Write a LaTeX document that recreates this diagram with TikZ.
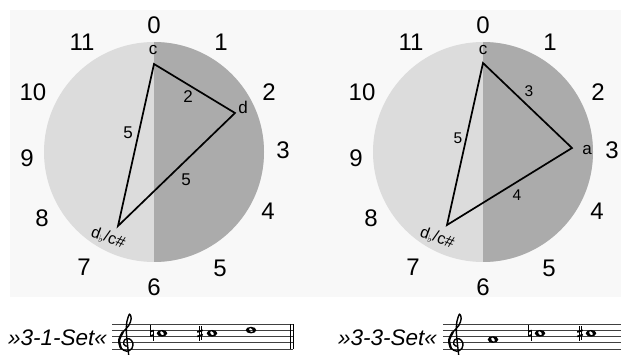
\documentclass[tikz,border=0pt]{standalone}
\usepackage{fontspec}
\setmainfont{Liberation Sans}
\newfontfamily\dejavu{DejaVu Sans}
\definecolor{lightdisc}{HTML}{DCDCDC}
\definecolor{darkdisc}{HTML}{ABABAB}
\definecolor{bgpanel}{HTML}{F8F8F8}
\newcommand\mysharpsign[2]{%
  \begin{scope}[shift={(#1,#2)}]
    \draw[line width=0.6pt] (-1.2,-7) -- (-1.2,7.5) (1.2,-7.5) -- (1.2,7);
    \draw[line width=1.6pt] (-2.8,-1.2) -- (2.8,-3.0) (-2.8,3.2) -- (2.8,1.4);
  \end{scope}}
\newcommand\mynaturalsign[2]{%
  \begin{scope}[shift={(#1,#2)}]
    \draw[line width=0.6pt] (-1.6,-8) -- (-1.6,3) (1.6,-3) -- (1.6,8);
    \draw[line width=1.6pt] (-1.6,-1.6) -- (1.6,-2.8) (-1.6,2.8) -- (1.6,1.6);
  \end{scope}}
\newcommand\mywholenote[2]{%
  \begin{scope}[shift={(#1,#2)}]
    \fill[even odd rule] (0,0) ellipse [x radius=5.3, y radius=3.3]
      [rotate=-50] (0,0) ellipse [x radius=2.3, y radius=1.5];
  \end{scope}}
\newcommand\mytrebleclef[2]{%
  \begin{scope}[shift={(#1,#2)}, x=6.5pt, y=-6.5pt]
    \draw[line width=1.4pt, line cap=round, line join=round]
      plot[smooth, tension=0.55] coordinates {
        (-0.55,2.95) (-0.05,3.4) (0.45,2.9) (0.4,1.8) (0.2,0) (0.05,-1.8)
        (0.15,-3.3) (0.55,-4.4) (0.8,-3.7) (0.4,-2.6) (-0.5,-1.6) (-1.05,-0.4)
        (-0.8,0.8) (0.1,1.3) (0.9,0.9) (1.05,0.0) (0.5,-0.6) (-0.2,-0.45)
        (-0.35,0.2) (0.05,0.55)};
    \draw[line width=2.3pt, line cap=round]
      plot[smooth, tension=0.55] coordinates {(-0.5,-1.6) (-1.05,-0.4) (-0.8,0.8)};
    \fill (-0.45,3.0) circle [radius=0.45];
  \end{scope}}
\begin{document}
\begin{tikzpicture}[x=1pt,y=-1pt,
  big/.style={font=\fontsize{24}{24}\selectfont, inner sep=0pt},
  small/.style={font=\fontsize{17}{17}\selectfont, inner sep=0pt},
  smaller/.style={font=\fontsize{15.5}{15.5}\selectfont, inner sep=0pt},
  tri/.style={line width=1.7pt, line join=miter},
  staffline/.style={line width=0.6pt, draw=black!75},
  settext/.style={font=\itshape\fontsize{22.5}{22.5}\selectfont, inner sep=0pt, anchor=west},
  enharm/.style={font=\fontsize{16}{16}\selectfont, inner sep=0pt, rotate=-20},
]
\useasboundingbox (0,0) rectangle (621,355);
\fill[bgpanel] (10,10) rectangle (621,297);

% ---------- left disc ----------
\fill[lightdisc] (154,152) circle [radius=110];
\begin{scope}
  \clip (154,152) circle [radius=110];
  \fill[darkdisc] (154,30) rectangle (280,280);
\end{scope}
% ---------- right disc ----------
\fill[lightdisc] (483,152) circle [radius=110];
\begin{scope}
  \clip (483,152) circle [radius=110];
  \fill[darkdisc] (483,30) rectangle (610,280);
\end{scope}

% dial numbers
\foreach \n/\dx/\dy in {0/0/-127, 1/67/-110, 2/115/-60, 3/129/-2, 4/114/59,
   5/66/116, 6/0/135, 7/-70/115, 8/-112/66, 9/-127/6, 10/-121/-60, 11/-72/-110} {
  \node[big] (L\n) at (154+\dx,152+\dy) {\n};
  \node[big] (R\n) at (483+\dx,152+\dy) {\n};
}

% left triangle
\coordinate (Lc) at (154,64);
\coordinate (Ld) at (235,113);
\coordinate (Lcs) at (118,226);
\draw[tri] (Lc) -- (Ld) -- (Lcs) -- cycle;
\node[small] (Lcl) at (153,50) {c};
\node[small] (Ldl) at (243,107) {d};
\node[small] (Le1) at (188,97) {2};
\node[small] (Le2) at (128,133) {5};
\node[small] (Le3) at (186,180) {5};
\node[enharm] (Lcsl) at (108,238) {d\raisebox{-2.5pt}{\dejavu\fontsize{10}{10}\selectfont ♭}/c\#};

% right triangle
\coordinate (Rc) at (483,63);
\coordinate (Ra) at (572,148);
\coordinate (Rcs) at (447,225);
\draw[tri] (Rc) -- (Ra) -- (Rcs) -- cycle;
\node[small] (Rcl) at (483,50) {c};
\node[small] (Ral) at (587,150) {a};
\node[smaller] (Re1) at (529,91) {3};
\node[smaller] (Re2) at (458,138) {5};
\node[smaller] (Re3) at (517,195) {4};
\node[enharm] (Rcsl) at (437,238) {d\raisebox{-2.5pt}{\dejavu\fontsize{10}{10}\selectfont ♭}/c\#};

% ---------- staves ----------
\node[settext] (S1) at (8,338) {»3-1-Set«};
\node[settext] (S2) at (338,338) {»3-3-Set«};

\foreach \k in {0,...,4} {
  \draw[staffline] (112,323.8+6.3*\k) -- (293,323.8+6.3*\k);
  \draw[staffline] (443,323.8+6.3*\k) -- (621,323.8+6.3*\k);
}
\draw[line width=0.6pt] (290,323.8) -- (290,349);
\draw[line width=1pt] (293.3,323.8) -- (293.3,349);

\mytrebleclef{126}{342.7}
\mytrebleclef{456}{342.7}

% left notes: c, c#, d
\mynaturalsign{152}{333.25}
\mywholenote{162}{333.25}
\mysharpsign{200}{333.25}
\mywholenote{212}{333.25}
\mywholenote{251}{330.1}

% right notes: a, c, c#
\mywholenote{493}{339.55}
\mynaturalsign{530}{333.25}
\mywholenote{540}{333.25}
\mysharpsign{580}{333.25}
\mywholenote{591}{333.25}
\end{tikzpicture}
\end{document}
